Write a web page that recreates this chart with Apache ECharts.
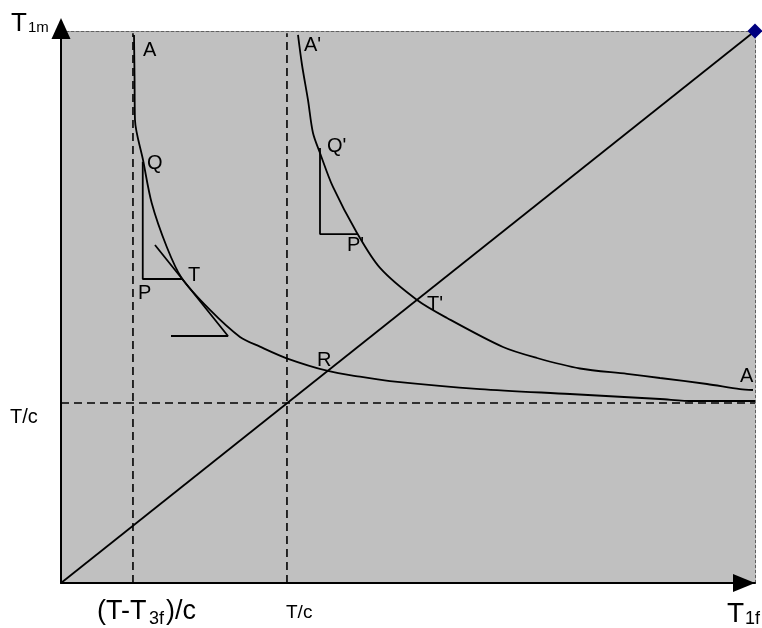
<!DOCTYPE html>
<html>
<head>
<meta charset="utf-8">
<script src="https://cdn.jsdelivr.net/npm/echarts@6/dist/echarts.min.js"></script>
<style>
html,body{margin:0;padding:0;background:#fff;}
#chart{width:762px;height:628px;}
</style>
</head>
<body>
<div id="chart"></div>
<script>
// ---- data (axis units: 0..100 on both axes) ----
const diagonal = [[0, 0], [100, 100]];
const curveA = [
  [10.52, 99.28], [10.6, 91.1], [10.66, 83.88], [11.82, 76.63], [13.07, 68.84],
  [15.23, 60.92], [17.39, 55.25], [21.47, 49.46], [25.79, 44.57], [28.67, 42.81],
  [32.52, 40.71], [38.47, 38.41], [43.08, 37.37], [47.41, 36.59], [60.37, 35.14],
  [73.34, 34.24], [86.31, 33.33], [91.07, 32.97], [100, 32.97]
];
const curveA2 = [
  [34.15, 99.28], [34.73, 93.84], [35.59, 87.5], [36.31, 81.52], [37.32, 77.9],
  [39.19, 71.74], [42.65, 63.41], [45.97, 57.07], [51.3, 51.27], [55.62, 48.01],
  [63.69, 42.75], [68.59, 40.76], [74.78, 38.86], [81.56, 37.9], [86.31, 37.14],
  [93.08, 36.05], [97.84, 35.14], [99.71, 34.96]
];
const triangleQPT = [[11.78, 76.3], [11.78, 55.07], [17.54, 55.07]];
const tangentT = [[13.54, 61.23], [24.06, 44.75], [15.85, 44.75]];
const triangleQP2 = [[37.32, 78.8], [37.32, 63.22], [42.65, 63.22]];
const asymX1 = 10.37;   // (T-T3f)/c
const asymX2 = 32.56;   // T/c on T1f axis
const asymY = 32.6;     // T/c on T1m axis
const pointLabels = ["A", "A'", "Q", "P", "T", "Q'", "P'", "T'", "R", "A"];
const axisTitles = ["T", "1m", "T", "1f", "(T-T", "3f", ")/c", "T/c", "T/c"];

const chart = echarts.init(document.getElementById('chart'), null, {renderer: 'canvas'});
const FONT = '"Liberation Sans", Arial, sans-serif';

function solid(name, data, width) {
  return {
    name: name, type: 'line', data: data, showSymbol: false, symbol: 'none',
    lineStyle: {color: '#000', width: width || 1.8}, clip: false, z: 4, silent: true
  };
}
function dashed(data) {
  return {
    type: 'line', data: data, showSymbol: false, symbol: 'none',
    lineStyle: {color: '#000', width: 1.6, type: [8, 5]}, z: 3, silent: true
  };
}
function txt(t, x, y, size) {
  return {type: 'text', x: x, y: y, z: 100,
    style: {text: t, fill: '#000', font: size + 'px ' + FONT, verticalAlign: 'middle', align: 'left'}};
}

const option = {
  animation: false,
  backgroundColor: '#fff',
  grid: {left: 61, top: 31, width: 694, height: 552, show: true,
         backgroundColor: '#C0C0C0', borderWidth: 0},
  xAxis: [
    {type: 'value', min: 0, max: 100, position: 'bottom',
     axisLine: {show: true, onZero: false, lineStyle: {color: '#000', width: 2},
                symbol: ['none', 'triangle'], symbolSize: [18, 22], symbolOffset: [0, -11]},
     axisTick: {show: false}, axisLabel: {show: false}, splitLine: {show: false}, z: 10},
    {type: 'value', min: 0, max: 100, position: 'top',
     axisLine: {show: true, onZero: false, lineStyle: {color: '#606060', width: 1, type: [3, 2]}},
     axisTick: {show: false}, axisLabel: {show: false}, splitLine: {show: false}}
  ],
  yAxis: [
    {type: 'value', min: 0, max: 100, position: 'left',
     axisLine: {show: true, onZero: false, lineStyle: {color: '#000', width: 2},
                symbol: ['none', 'triangle'], symbolSize: [19, 21], symbolOffset: [0, 2.5]},
     axisTick: {show: false}, axisLabel: {show: false}, splitLine: {show: false}, z: 10},
    {type: 'value', min: 0, max: 100, position: 'right',
     axisLine: {show: true, onZero: false, lineStyle: {color: '#606060', width: 1, type: [3, 2]}},
     axisTick: {show: false}, axisLabel: {show: false}, splitLine: {show: false}}
  ],
  series: [
    dashed([[asymX1, 0], [asymX1, 99.6]]),
    dashed([[asymX2, 0], [asymX2, 99.6]]),
    dashed([[0, asymY], [100, asymY]]),
    {
      type: 'line', data: [{value: diagonal[0], symbol: 'none'}, {value: diagonal[1]}],
      symbol: 'diamond', symbolSize: 15, showSymbol: true, clip: false,
      itemStyle: {color: '#000080'}, lineStyle: {color: '#000', width: 1.8}, z: 5, silent: true
    },
    Object.assign(solid('A', curveA), {smooth: 0.3}),
    Object.assign(solid("A'", curveA2), {smooth: 0.3}),
    solid('QPT', triangleQPT),
    solid('tangent', tangentT),
    solid("Q'P'", triangleQP2)
  ],
  graphic: [
    txt(pointLabels[0], 143, 50, 20),
    txt(pointLabels[1], 304, 45, 20),
    txt(pointLabels[2], 147, 163, 20),
    txt(pointLabels[3], 138, 293, 20),
    txt(pointLabels[4], 188, 275, 20),
    txt(pointLabels[5], 327, 146, 20),
    txt(pointLabels[6], 347, 245, 20),
    txt(pointLabels[7], 427, 304, 20),
    txt(pointLabels[8], 317, 360, 20),
    txt(pointLabels[9], 740, 376, 20),
    txt(axisTitles[0], 11, 24, 26),
    txt(axisTitles[1], 28, 28, 15),
    txt(axisTitles[2], 727, 614, 28),
    txt(axisTitles[3], 745, 619, 18),
    txt(axisTitles[4], 97, 612, 27),
    txt(axisTitles[5], 149, 619, 18),
    txt(axisTitles[6], 166, 612, 27),
    txt(axisTitles[7], 286, 613, 19),
    txt(axisTitles[8], 10, 417, 20)
  ]
};
chart.setOption(option);
</script>
</body>
</html>
